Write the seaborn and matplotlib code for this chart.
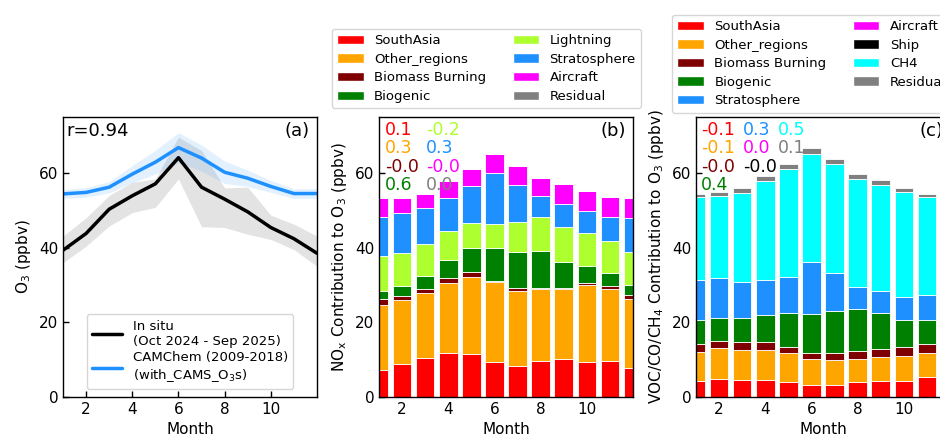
import numpy as np
import pandas as pd
import seaborn as sns
import matplotlib.pyplot as plt
from matplotlib.patches import Patch

months = list(range(1, 13))

# (a) surface O3
insitu = [39.3, 43.8, 50.3, 53.9, 57.1, 64.1, 56.2, 53.0, 49.6, 45.4, 42.4, 38.5]
insitu_lo = [36.0, 40.4, 45.8, 49.4, 50.8, 58.4, 45.6, 45.4, 43.6, 42.2, 39.5, 35.0]
insitu_hi = [43.1, 48.0, 54.0, 57.5, 58.4, 69.6, 66.0, 56.0, 56.2, 48.7, 46.3, 43.1]
camchem = [54.4, 54.8, 56.2, 59.7, 62.9, 66.8, 64.0, 60.2, 58.6, 56.4, 54.5, 54.5]
camchem_sd = [1.2, 1.3, 1.5, 2.3, 3.2, 4.0, 3.5, 3.0, 2.2, 1.6, 1.3, 1.3]

# (b) NOx tagged contributions
nox_sources = ["SouthAsia", "Other_regions", "Biomass Burning", "Biogenic",
               "Lightning", "Stratosphere", "Aircraft", "Residual"]
nox_southasia = [7.2, 8.8, 10.5, 11.9, 11.5, 9.3, 8.3, 9.7, 10.3, 9.4, 9.7, 7.9]
nox_other = [17.5, 17.1, 17.4, 18.6, 20.7, 21.4, 20.2, 19.1, 18.5, 20.6, 19.2, 18.3]
nox_biomass = [1.5, 1.2, 1.1, 1.4, 1.2, 0.5, 0.6, 0.3, 0.3, 0.5, 0.9, 1.2]
nox_biogenic = [2.1, 2.7, 3.5, 4.7, 6.6, 8.8, 9.7, 9.9, 7.1, 4.7, 3.5, 2.5]
nox_lightning = [9.4, 8.7, 8.6, 7.8, 6.7, 6.4, 8.2, 9.3, 9.4, 8.6, 8.4, 8.9]
nox_strat = [10.6, 10.7, 9.4, 9.0, 9.9, 13.6, 9.9, 5.5, 6.1, 6.1, 6.6, 9.1]
nox_aircraft = [4.9, 4.2, 3.9, 4.5, 4.5, 5.1, 5.1, 4.8, 5.3, 5.2, 5.2, 5.3]
nox_residual = [0.0] * 12
nox_r = ["0.1", "0.3", "-0.0", "0.6", "-0.2", "0.3", "-0.0", "0.0"]

# (c) VOC/CO/CH4 tagged contributions
voc_sources = ["SouthAsia", "Other_regions", "Biomass Burning", "Biogenic",
               "Stratosphere", "Aircraft", "Ship", "CH4", "Residual"]
voc_southasia = [4.3, 4.9, 4.5, 4.5, 4.0, 3.1, 3.3, 4.0, 4.2, 4.4, 5.3, 4.6]
voc_other = [7.8, 8.3, 8.1, 8.1, 7.7, 7.1, 6.6, 6.2, 6.4, 6.7, 6.6, 7.4]
voc_biomass = [2.1, 1.9, 2.0, 2.0, 1.8, 1.5, 1.8, 2.2, 2.2, 2.3, 2.4, 2.2]
voc_biogenic = [6.5, 6.1, 6.6, 7.4, 9.0, 10.6, 11.4, 11.2, 9.7, 7.3, 6.4, 6.4]
voc_strat = [10.7, 10.8, 9.5, 9.3, 9.7, 13.8, 10.0, 5.8, 6.0, 6.1, 6.7, 9.9]
voc_aircraft = [0.0] * 12
voc_ship = [0.0] * 12
voc_ch4 = [22.2, 21.9, 24.0, 26.6, 28.9, 29.0, 29.2, 29.0, 28.4, 28.2, 26.2, 23.1]
voc_residual = [0.8, 0.9, 1.2, 1.4, 1.3, 1.6, 1.5, 1.4, 1.2, 1.1, 0.9, 0.8]
voc_r = ["-0.1", "-0.1", "-0.0", "0.4", "0.3", "0.0", "-0.0", "0.5", "0.1"]

colors = {"SouthAsia": "red", "Other_regions": "orange", "Biomass Burning": "#7f0000",
          "Biogenic": "green", "Lightning": "greenyellow", "Stratosphere": "dodgerblue",
          "Aircraft": "magenta", "Ship": "black", "CH4": "cyan", "Residual": "grey"}

sns.set_theme(style="ticks", rc={"xtick.direction": "in", "ytick.direction": "in",
                                 "axes.edgecolor": "black", "text.color": "black",
                                 "axes.labelcolor": "black", "xtick.color": "black",
                                 "ytick.color": "black", "axes.linewidth": 1.0})
plt.rcParams["font.family"] = ["DejaVu Sans"]
plt.rcParams["mathtext.default"] = "regular"


def stacked(ax, sources, series):
    df = pd.DataFrame({"month": months * len(sources),
                       "source": [s for s in sources for _ in months],
                       "value": [v for vals in series for v in vals]})
    # histplot stacks the first hue level on top, so pass the order reversed
    sns.histplot(data=df, x="month", weights="value", hue="source",
                 hue_order=sources[::-1], palette=colors, multiple="stack",
                 discrete=True, shrink=0.8, alpha=1, edgecolor="white",
                 linewidth=0.6, legend=False, ax=ax)


def finish(ax, ylabel):
    ax.set_xlim(1, 12)
    ax.set_ylim(0, 75)
    ax.set_xticks([2, 4, 6, 8, 10])
    ax.set_yticks([0, 20, 40, 60])
    ax.tick_params(labelsize=11, length=4, width=1)
    ax.set_xlabel("Month", fontsize=11)
    ax.set_ylabel(ylabel, fontsize=11)


fig = plt.figure(figsize=(9.4, 4.41), dpi=100)
w, h, b = 254 / 940, 280 / 441, 44 / 441
ax1 = fig.add_axes([63 / 940, b, w, h])
ax2 = fig.add_axes([379 / 940, b, w, h])
ax3 = fig.add_axes([696 / 940, b, w, h])

# (a)
ax1.fill_between(months, insitu_lo, insitu_hi, color="grey", alpha=0.22, lw=0)
lo = [c - s for c, s in zip(camchem, camchem_sd)]
hi = [c + s for c, s in zip(camchem, camchem_sd)]
ax1.fill_between(months, lo, hi, color="dodgerblue", alpha=0.12, lw=0)
sns.lineplot(x=months, y=insitu, color="black", lw=2.5, ax=ax1,
             label="In situ\n(Oct 2024 - Sep 2025)")
sns.lineplot(x=months, y=camchem, color="dodgerblue", lw=2.5, ax=ax1,
             label="CAMChem (2009-2018)\n(with_CAMS_O$_3$s)")
ax1.legend(loc="lower center", fontsize=9.5, handlelength=2.3, frameon=True,
           borderaxespad=0.6, labelspacing=0.3)
finish(ax1, "O$_3$ (ppbv)")
ax1.text(0.012, 0.95, "r=0.94", transform=ax1.transAxes, fontsize=13, va="center")
ax1.text(0.972, 0.95, "(a)", transform=ax1.transAxes, fontsize=13, va="center", ha="right")

# (b)
stacked(ax2, nox_sources, [nox_southasia, nox_other, nox_biomass, nox_biogenic,
                           nox_lightning, nox_strat, nox_aircraft, nox_residual])
finish(ax2, "NO$_x$ Contribution to O$_3$ (ppbv)")
ax2.text(0.972, 0.95, "(b)", transform=ax2.transAxes, fontsize=13, va="center", ha="right")
for i, (src, r) in enumerate(zip(nox_sources, nox_r)):
    ax2.text(0.024 + 0.161 * (i // 4), 0.955 - 0.066 * (i % 4), r, color=colors[src],
             transform=ax2.transAxes, fontsize=12.5, va="center")
ax2.legend(handles=[Patch(facecolor=colors[s], label=s) for s in nox_sources],
           ncol=2, loc="lower center", bbox_to_anchor=(0.423, 1.032), borderaxespad=0,
           fontsize=9.5, labelspacing=0.42, frameon=True)

# (c)
stacked(ax3, voc_sources, [voc_southasia, voc_other, voc_biomass, voc_biogenic,
                           voc_strat, voc_aircraft, voc_ship, voc_ch4, voc_residual])
finish(ax3, "VOC/CO/CH$_4$ Contribution to O$_3$ (ppbv)")
ax3.text(0.972, 0.95, "(c)", transform=ax3.transAxes, fontsize=13, va="center", ha="right")
for i, (src, r) in enumerate(zip(voc_sources, voc_r)):
    col = 0 if i < 4 else (1 if i < 7 else 2)
    row = i if i < 4 else (i - 4 if i < 7 else i - 7)
    ax3.text([0.02, 0.185, 0.323][col], 0.955 - 0.066 * row, r, color=colors[src],
             transform=ax3.transAxes, fontsize=12.5, va="center")
ax3.legend(handles=[Patch(facecolor=colors[s], label=s) for s in voc_sources],
           ncol=2, loc="lower left", bbox_to_anchor=(-0.094, 1.016), borderaxespad=0,
           fontsize=9.5, labelspacing=0.42, frameon=True)

fig.savefig("out.png", dpi=100)
